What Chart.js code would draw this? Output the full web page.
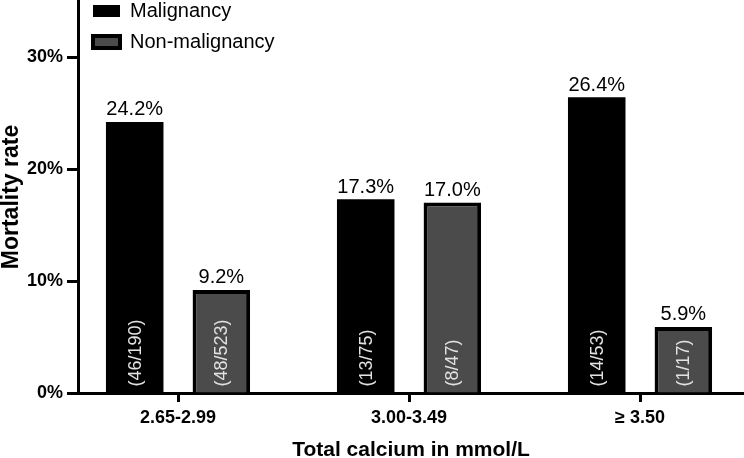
<!DOCTYPE html>
<html>
<head>
<meta charset="utf-8">
<script src="https://cdn.jsdelivr.net/npm/chart.js@4"></script>
<style>
  html, body { margin: 0; padding: 0; background: #fff; }
  #wrap { width: 744px; height: 458px; position: relative; }
</style>
</head>
<body>
<div id="wrap"><canvas id="chart"></canvas></div>
<script>
// calcium groups on the x axis
const categories = ['2.65-2.99', '3.00-3.49', '\u2265 3.50'];

// mortality rate in %
const malignancyRate = [24.2, 17.3, 26.4];
const nonMalignancyRate = [9.2, 17.0, 5.9];

// deaths / patients, written inside the bars
const malignancyDeaths = [46, 13, 14];
const malignancyTotals = [190, 75, 53];
const nonMalignancyDeaths = [48, 8, 1];
const nonMalignancyTotals = [523, 47, 17];

const yTicks = [0, 10, 20, 30];

const FONT = '"Liberation Sans", Arial, Helvetica, sans-serif';

const counts = [
    { deaths: malignancyDeaths, totals: malignancyTotals },
    { deaths: nonMalignancyDeaths, totals: nonMalignancyTotals }
];

// value on top, (n/N) turned up inside the bar
const barLabels = {
    id: 'barLabels',
    afterDatasetsDraw(chart) {
        const ctx = chart.ctx;
        chart.data.datasets.forEach((ds, i) => {
            const meta = chart.getDatasetMeta(i);
            meta.data.forEach((bar, j) => {
                const { x, y, base } = bar.getProps(['x', 'y', 'base'], true);
                ctx.save();
                ctx.fillStyle = '#000';
                ctx.font = '20px ' + FONT;
                ctx.textAlign = 'center';
                ctx.textBaseline = 'bottom';
                ctx.fillText(ds.data[j].y.toFixed(1) + '%', x, y - 2);

                ctx.translate(x + 1, base - 6);
                ctx.rotate(-Math.PI / 2);
                ctx.textAlign = 'left';
                ctx.textBaseline = 'middle';
                ctx.fillStyle = '#e2e2e2';
                ctx.font = '18px ' + FONT;
                ctx.fillText(`(${counts[i].deaths[j]}/${counts[i].totals[j]})`, 0, 0);
                ctx.restore();
            });
        });
    }
};

// legend sits in the top left corner of the plot
const legendNudge = {
    id: 'legendNudge',
    afterLayout(chart) {
        if (!chart.legend) return;
        chart.legend.top -= 10;
        chart.legend.left += 4;
    }
};

new Chart(document.getElementById('chart').getContext('2d'), {
    type: 'bar',
    data: {
        datasets: [
            {
                label: 'Malignancy',
                data: malignancyRate.map((v, i) => ({ x: i + 1, y: v })),
                backgroundColor: '#000',
                borderColor: '#000',
                borderWidth: 0
            },
            {
                label: 'Non-malignancy',
                data: nonMalignancyRate.map((v, i) => ({ x: i + 1, y: v })),
                backgroundColor: '#4b4b4b',
                borderColor: '#000',
                borderWidth: 4
            }
        ]
    },
    options: {
        responsive: true,
        maintainAspectRatio: false,
        animation: false,
        categoryPercentage: 0.75,
        barPercentage: 0.664,
        layout: { padding: { top: 1, right: 0, left: 0, bottom: 0 } },
        plugins: {
            legend: {
                position: 'chartArea',
                align: 'start',
                labels: {
                    boxWidth: 27,
                    boxHeight: 12,
                    padding: 11,
                    color: '#000',
                    font: { family: FONT, size: 20 }
                }
            },
            tooltip: { enabled: false }
        },
        scales: {
            x: {
                type: 'linear',
                offset: false,
                min: 0.567,
                max: 3.45,
                ticks: {
                    stepSize: 1,
                    includeBounds: false,
                    autoSkip: false,
                    maxRotation: 0,
                    color: '#000',
                    padding: 5,
                    font: { family: FONT, size: 18, weight: 'bold' },
                    callback: v => categories[v - 1] ?? ''
                },
                grid: {
                    offset: false,
                    drawOnChartArea: false,
                    drawTicks: true,
                    tickLength: 9,
                    tickWidth: 3,
                    tickColor: '#000'
                },
                border: { display: true, color: '#000', width: 3 },
                title: {
                    display: true,
                    text: 'Total calcium in mmol/L',
                    color: '#000',
                    font: { family: FONT, size: 21, weight: 'bold', lineHeight: 1 },
                    padding: { top: 0, bottom: -3 }
                },
                afterFit: s => {
                    s.height = 65;
                    s.paddingLeft = 0;
                    s.paddingRight = 0;
                }
            },
            y: {
                min: 0,
                max: 35,
                afterBuildTicks: s => { s.ticks = yTicks.map(v => ({ value: v })); },
                ticks: {
                    color: '#000',
                    padding: 4,
                    font: { family: FONT, size: 18, weight: 'bold' },
                    callback: v => v + '%'
                },
                grid: {
                    drawOnChartArea: false,
                    drawTicks: true,
                    tickLength: 11,
                    tickWidth: 3,
                    tickColor: '#000'
                },
                border: { display: true, color: '#000', width: 3 },
                title: {
                    display: true,
                    text: 'Mortality rate',
                    color: '#000',
                    font: { family: FONT, size: 23, weight: 'bold', lineHeight: 1 },
                    padding: 0
                },
                afterFit: s => {
                    s.width = 78;
                    s.paddingTop = 0;
                    s.paddingBottom = 0;
                }
            }
        }
    },
    plugins: [barLabels, legendNudge]
});
</script>
</body>
</html>
